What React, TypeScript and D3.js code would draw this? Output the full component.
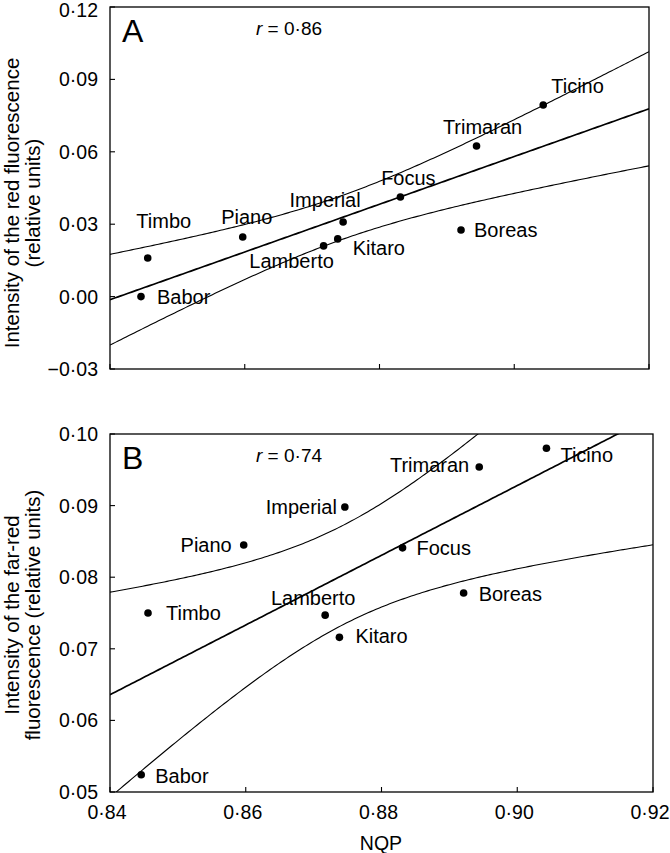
import React from "react";
import * as d3 from "d3";

const cultivars = ["Babor", "Timbo", "Piano", "Lamberto", "Kitaro", "Imperial", "Focus", "Boreas", "Trimaran", "Ticino"];
const nqp = [0.8446, 0.8456, 0.8597, 0.8717, 0.8738, 0.8746, 0.8831, 0.8921, 0.8944, 0.9043];
const redFluo = [0.0, 0.016, 0.0247, 0.021, 0.0239, 0.0309, 0.0413, 0.0276, 0.0624, 0.0794];
const farRedFluo = [0.0524, 0.075, 0.0845, 0.0747, 0.0716, 0.0898, 0.0841, 0.0778, 0.0954, 0.098];

const xTicks = [0.84, 0.86, 0.88, 0.9, 0.92];
const yTicksA = [-0.03, 0, 0.03, 0.06, 0.09, 0.12];
const yTicksB = [0.05, 0.06, 0.07, 0.08, 0.09, 0.1];

// label placement: [anchor, dx, dy]
type LP = [string, number, number];
const labelPosA: LP[] = [
  ["start", 16, 7], ["middle", 16, -30], ["middle", 4, -13], ["middle", -32, 22], ["start", 15, 16],
  ["middle", -18, -15], ["middle", 8, -12], ["start", 13, 7], ["middle", 6, -12], ["start", 8, -12],
];
const labelPosB: LP[] = [
  ["start", 14, 8], ["start", 18, 7], ["end", -12, 7], ["middle", -12, -10], ["start", 16, 6],
  ["end", -8, 7], ["start", 14, 7], ["start", 15, 8], ["end", -10, 5], ["start", 14, 14],
];

const FONT = "'Liberation Sans', Arial, Helvetica, sans-serif";
const T_CRIT = 2.306; // t(0.975, df=8)

const fmt = (v: number) => d3.format(".2f")(v).replace(".", "·").replace("-", "−");

function regression(xs: number[], ys: number[]) {
  const n = xs.length;
  const xm = d3.mean(xs)!;
  const ym = d3.mean(ys)!;
  const sxx = d3.sum(xs, (x) => (x - xm) ** 2);
  const sxy = d3.sum(xs.map((x, i) => (x - xm) * (ys[i] - ym)));
  const b = sxy / sxx;
  const a = ym - b * xm;
  const sse = d3.sum(xs.map((x, i) => (ys[i] - (a + b * x)) ** 2));
  const s = Math.sqrt(sse / (n - 2));
  const half = (x: number) => T_CRIT * s * Math.sqrt(1 / n + (x - xm) ** 2 / sxx);
  return { fit: (x: number) => a + b * x, half };
}

interface PanelProps {
  id: string;
  letter: string;
  rText: string;
  ys: number[];
  yDomain: [number, number];
  yTicks: number[];
  left: number;
  right: number;
  top: number;
  bottom: number;
  labelPos: LP[];
  showXLabels: boolean;
  yLabel: string[];
  yLabelCenter: number;
}

function Panel(p: PanelProps) {
  const x = d3.scaleLinear().domain([0.84, 0.92]).range([p.left, p.right]);
  const y = d3.scaleLinear().domain(p.yDomain).range([p.bottom, p.top]);
  const reg = regression(nqp, p.ys);
  const grid = d3.range(0, 201).map((i) => 0.84 + (0.08 * i) / 200);
  const line = d3.line<number[]>().x((d) => x(d[0])).y((d) => y(d[1]));
  const mid = line(grid.map((g) => [g, reg.fit(g)]))!;
  const up = line(grid.map((g) => [g, reg.fit(g) + reg.half(g)]))!;
  const lo = line(grid.map((g) => [g, reg.fit(g) - reg.half(g)]))!;
  return (
    <g>
      <defs>
        <clipPath id={"clip" + p.id}>
          <rect x={p.left} y={p.top} width={p.right - p.left} height={p.bottom - p.top} />
        </clipPath>
      </defs>
      <g clipPath={`url(#clip${p.id})`} fill="none" stroke="#000">
        <path d={up} strokeWidth={1.1} />
        <path d={lo} strokeWidth={1.1} />
        <path d={mid} strokeWidth={1.7} />
      </g>
      <rect x={p.left} y={p.top} width={p.right - p.left} height={p.bottom - p.top} fill="none" stroke="#000" strokeWidth={1.3} />
      {xTicks.map((t) => (
        <g key={"xt" + t}>
          <line x1={x(t)} x2={x(t)} y1={p.bottom} y2={p.bottom - 5} stroke="#000" strokeWidth={1.1} />
          {p.showXLabels && (
            <text x={x(t) - 3} y={p.bottom + 27} textAnchor="middle" fontSize={19.5} fontFamily={FONT}>{fmt(t)}</text>
          )}
        </g>
      ))}
      {p.yTicks.map((t) => (
        <g key={"yt" + t}>
          <line x1={p.left} x2={p.left + 5} y1={y(t)} y2={y(t)} stroke="#000" strokeWidth={1.1} />
          <text x={p.left - 12} y={Math.max(y(t), 10)} dy="0.36em" textAnchor="end" fontSize={19.5} fontFamily={FONT}>{fmt(t)}</text>
        </g>
      ))}
      {nqp.map((v, i) => {
        const [anchor, dx, dy] = p.labelPos[i];
        return (
          <g key={"pt" + i}>
            <circle cx={x(v)} cy={y(p.ys[i])} r={3.8} fill="#000" />
            <text x={x(v) + dx} y={y(p.ys[i]) + dy} textAnchor={anchor as any} fontSize={20} fontFamily={FONT}>{cultivars[i]}</text>
          </g>
        );
      })}
      <text x={p.left + 12} y={p.top + 35} fontSize={32} fontFamily={FONT}>{p.letter}</text>
      <text x={p.left + 146} y={p.top + 28} fontSize={19} fontFamily={FONT}>
        <tspan fontStyle="italic">r</tspan> = {p.rText}
      </text>
      {p.yLabel.map((l, i) => (
        <text key={"yl" + i} transform={`translate(${i === 0 ? 19 : 40},${p.yLabelCenter}) rotate(-90)`} textAnchor="middle" fontSize={20.5} fontFamily={FONT}>{l}</text>
      ))}
    </g>
  );
}

export default function App() {
  return (
    <svg width={670} height={853} style={{ display: "block", position: "absolute", left: 0, top: 0, background: "#fff" }}>
      <rect width={670} height={853} fill="#fff" />
      <Panel id="A" letter="A" rText="0·86" ys={redFluo} yDomain={[-0.03, 0.12]} yTicks={yTicksA}
        left={110} right={649} top={7} bottom={369} labelPos={labelPosA} showXLabels={false}
        yLabel={["Intensity of the red fluorescence", "(relative units)"]} yLabelCenter={203} />
      <Panel id="B" letter="B" rText="0·74" ys={farRedFluo} yDomain={[0.05, 0.1]} yTicks={yTicksB}
        left={110} right={653} top={434} bottom={792} labelPos={labelPosB} showXLabels={true}
        yLabel={["Intensity of the far-red", "fluorescence (relative units)"]} yLabelCenter={615} />
      <text x={381} y={850} textAnchor="middle" fontSize={19.5} fontFamily={FONT}>NQP</text>
    </svg>
  );
}
